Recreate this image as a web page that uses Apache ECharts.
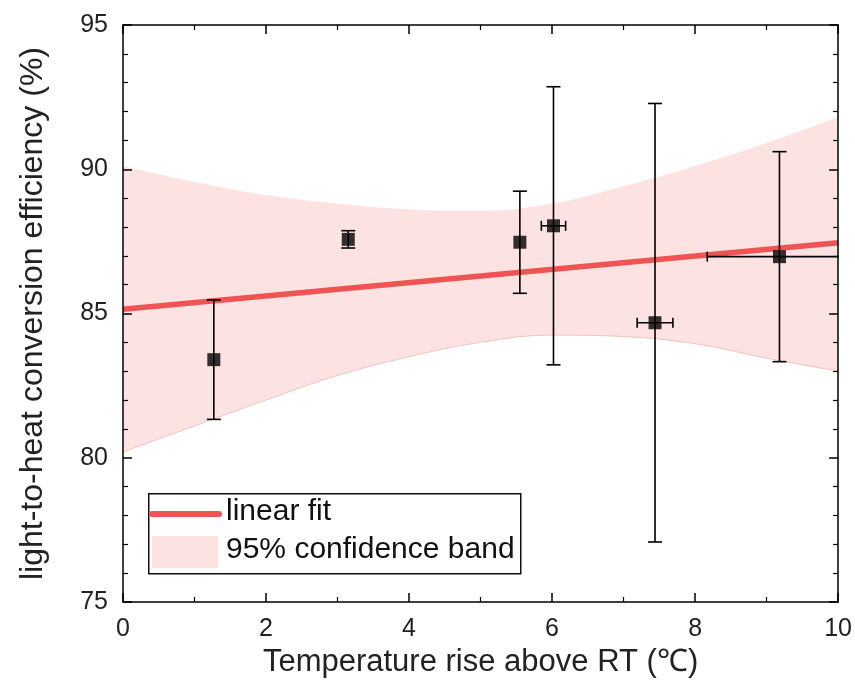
<!DOCTYPE html>
<html><head><meta charset="utf-8">
<script src="https://cdn.jsdelivr.net/npm/echarts@6/dist/echarts.min.js"></script>
<style>html,body{margin:0;padding:0;background:#fff}#c{width:855px;height:693px}</style>
</head><body><div id="c"></div>
<script>
// Data points with error bars
const ptX = [1.27, 3.15, 5.55, 6.02, 7.44, 9.18];
const ptY = [83.4, 87.57, 87.47, 88.04, 84.68, 86.97];
const ptYErr = [2.07, 0.3, 1.77, 4.82, 7.6, 3.64];
const ptXErr = [0, 0, 0, 0.17, 0.25, 1.01];
// Linear fit
const fitX = [0, 10];
const fitY = [85.15, 87.45];
// 95% confidence band
const bandX = [0, 1, 2, 3, 4, 5, 6, 7, 8, 9, 10];
const bandUpper = [90.1, 89.55, 89.1, 88.8, 88.6, 88.55, 88.8, 89.4, 90.1, 90.9, 91.8];
const bandLower = [80.2, 81.1, 82.0, 82.85, 83.5, 84.0, 84.25, 84.2, 83.95, 83.45, 83.0];
// Axis ticks
const xTicks = {min: 0, max: 10, interval: 2};
const yTicks = {min: 75, max: 95, interval: 5};

const FONT = 'Arial, "Liberation Sans", sans-serif';
const chart = echarts.init(document.getElementById('c'));

const upperData = bandX.map((x, i) => [x, bandUpper[i]]);
const lowerData = bandX.map((x, i) => [x, bandLower[i]]);
const errData = ptX.map((x, i) => [x, ptY[i], ptXErr[i], ptYErr[i]]);
const ptData = ptX.map((x, i) => [x, ptY[i]]);

const axisLine = {show: true, onZero: false, lineStyle: {color: '#000', width: 1.5}};
const tick = {show: true, inside: true, length: 9, lineStyle: {color: '#000', width: 1.5}};
const minor = (n) => ({show: true, splitNumber: n, length: 5, lineStyle: {color: '#000', width: 1.2}});
const labelStyle = {fontSize: 25, color: '#222', margin: 15, fontFamily: FONT};

chart.setOption({
  animation: false,
  grid: {left: 123, right: 15, top: 25, bottom: 91, containLabel: false},
  xAxis: [
    {type: 'value', min: xTicks.min, max: xTicks.max, interval: xTicks.interval, position: 'bottom', z: 20,
     axisLine, axisTick: tick, minorTick: minor(2), splitLine: {show: false},
     axisLabel: labelStyle,
     name: 'Temperature rise above RT (℃)', nameLocation: 'middle', nameGap: 45,
     nameTextStyle: {fontSize: 31, color: '#222', fontFamily: FONT}},
    {type: 'value', min: xTicks.min, max: xTicks.max, interval: xTicks.interval, position: 'top', z: 20,
     axisLine, axisTick: tick, minorTick: minor(2), splitLine: {show: false},
     axisLabel: {show: false}}
  ],
  yAxis: [
    {type: 'value', min: yTicks.min, max: yTicks.max, interval: yTicks.interval, position: 'left', z: 20,
     axisLine, axisTick: tick, minorTick: minor(5), splitLine: {show: false},
     axisLabel: labelStyle,
     name: 'light-to-heat conversion efficiency (%)', nameLocation: 'middle', nameGap: 74,
     nameTextStyle: {fontSize: 32, color: '#222', fontFamily: FONT}},
    {type: 'value', min: yTicks.min, max: yTicks.max, interval: yTicks.interval, position: 'right', z: 20,
     axisLine, axisTick: tick, minorTick: minor(5), splitLine: {show: false},
     axisLabel: {show: false}}
  ],
  series: [
    {type: 'line', data: upperData, smooth: 0.4, symbol: 'none', z: 1, silent: true,
     lineStyle: {color: '#fbe4e4', width: 0.6}, areaStyle: {color: '#fde2e2', opacity: 1, origin: 'start'}},
    {type: 'line', data: lowerData, smooth: 0.4, symbol: 'none', z: 1.5, silent: true,
     lineStyle: {color: '#eab0b0', width: 0.7}, areaStyle: {color: '#ffffff', opacity: 1, origin: 'start'}},
    {type: 'line', data: fitX.map((x, i) => [x, fitY[i]]), symbol: 'none',
     lineStyle: {color: '#ef5454', width: 5.5}, z: 3},
    {type: 'custom', z: 4, clip: true, data: errData,
     renderItem: function (params, api) {
       const x = api.value(0), y = api.value(1), ex = api.value(2), ey = api.value(3);
       const top = api.coord([x, y + ey]), bot = api.coord([x, y - ey]);
       const st = {stroke: '#000', lineWidth: 1.6};
       const cap = 7;
       const ch = [
         {type: 'line', shape: {x1: top[0], y1: top[1], x2: bot[0], y2: bot[1]}, style: st},
         {type: 'line', shape: {x1: top[0] - cap, y1: top[1], x2: top[0] + cap, y2: top[1]}, style: st},
         {type: 'line', shape: {x1: bot[0] - cap, y1: bot[1], x2: bot[0] + cap, y2: bot[1]}, style: st}
       ];
       if (ex > 0) {
         const l = api.coord([x - ex, y]), r = api.coord([x + ex, y]);
         const hc = 5;
         ch.push({type: 'line', shape: {x1: l[0], y1: l[1], x2: r[0], y2: r[1]}, style: st});
         ch.push({type: 'line', shape: {x1: l[0], y1: l[1] - hc, x2: l[0], y2: l[1] + hc}, style: st});
         ch.push({type: 'line', shape: {x1: r[0], y1: r[1] - hc, x2: r[0], y2: r[1] + hc}, style: st});
       }
       return {type: 'group', children: ch};
     }},
    {type: 'scatter', data: ptData, symbol: 'rect', symbolSize: 13,
     itemStyle: {color: '#000'}, z: 5}
  ],
  graphic: [
    {type: 'rect', left: 148, top: 493, shape: {width: 372, height: 80},
     style: {fill: '#fff', stroke: '#111', lineWidth: 1.5}, z: 10},
    {type: 'line', shape: {x1: 152, y1: 514, x2: 219, y2: 514},
     style: {stroke: '#ef5454', lineWidth: 6, lineCap: 'round'}, z: 11},
    {type: 'text', left: 226, top: 497,
     style: {text: 'linear fit', fontSize: 30, fill: '#111', fontFamily: FONT}, z: 11},
    {type: 'rect', left: 152, top: 536, shape: {width: 66, height: 32},
     style: {fill: '#fde2e2'}, z: 11},
    {type: 'text', left: 226, top: 535,
     style: {text: '95% confidence band', fontSize: 30, fill: '#111', fontFamily: FONT}, z: 11}
  ]
});
</script></body></html>
